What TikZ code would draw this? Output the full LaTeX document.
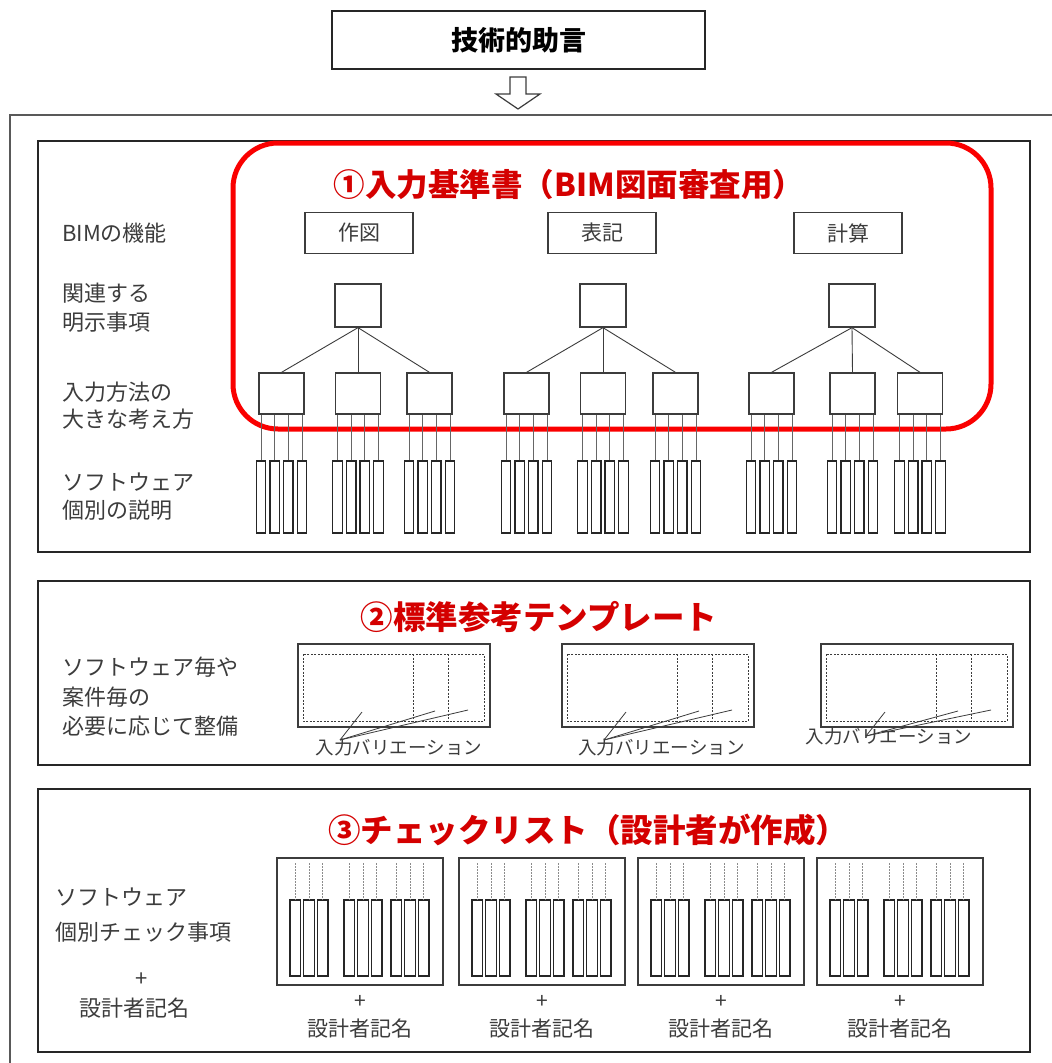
\documentclass[tikz,border=0pt]{standalone}
\usepackage{fontspec}
\setmainfont{Noto Sans CJK JP}
\definecolor{ttlred}{RGB}{212,0,0}
\definecolor{frred}{RGB}{250,0,0}
\definecolor{ink}{RGB}{60,60,60}
\begin{document}
\begin{tikzpicture}[x=1pt,y=-1pt,
  lab/.style={anchor=west,inner sep=0pt,text=ink,font=\fontsize{22}{26}\selectfont},
  ctr/.style={inner sep=0pt,text=ink,font=\fontsize{21}{25}\selectfont},
  ttl/.style={inner sep=0pt,text=ttlred,font=\bfseries\fontsize{32.5}{38}\selectfont},
  panel/.style={draw=black!85,line width=1.5},
  fnbox/.style={draw=ink,line width=1.3,minimum width=108,minimum height=41,inner sep=0pt,text=ink,font=\fontsize{21}{25}\selectfont},
  sqbox/.style={draw=ink,line width=1.3,minimum width=46,minimum height=43,inner sep=0pt},
  midbox/.style={draw=ink,line width=1.3,minimum width=45,minimum height=41,inner sep=0pt},
  swbox/.style={draw=black!85,line width=1.2,minimum width=9.5,minimum height=72,inner sep=0pt},
  tline/.style={draw=ink,line width=0.9},
  vline/.style={draw=black!60,line width=0.9},
  tplout/.style={draw=ink,line width=1.4,minimum width=192,minimum height=83,inner sep=0pt},
  dsh/.style={draw=ink,line width=1,dash pattern=on 2pt off 1.5pt},
  ckbox/.style={draw=ink,line width=1.3,minimum width=166,minimum height=127,inner sep=0pt},
  ckrect/.style={draw=black!85,line width=1.2,minimum width=10.5,minimum height=76,inner sep=0pt},
  dotl/.style={draw=black!45,line width=0.8,dash pattern=on 2pt off 1pt}]
\useasboundingbox (0,0) rectangle (1052,1063);
\fill[white] (0,0) rectangle (1052,1063);

% top box and hollow arrow
\node[draw=black!85,line width=1.5,minimum width=373,minimum height=58,inner sep=0pt,
      font=\bfseries\fontsize{27}{32}\selectfont] (top) at (518.5,40) {技術的助言};
\draw[draw=ink,line width=1.2,fill=white] (510,77) -- (526,77) -- (526,94) -- (540,94) -- (518,109)
  -- (496,94) -- (510,94) -- cycle;

% outer frame
\draw[draw=black!65,line width=2] (10,1063) -- (10,115) -- (1052,115);

% panels
\draw[panel] (38,141) rectangle (1030,552);
\draw[panel] (38,581) rectangle (1030,765);
\draw[panel] (38,789) rectangle (1030,1052);

% ---------- panel 1 ----------
\node[draw=frred,line width=5,rounded corners=45,minimum width=758,minimum height=286,inner sep=0pt] (redframe) at (612,286) {};
\node[ttl,font=\bfseries\fontsize{31.5}{37}\selectfont] (t1) at (569,185) {①入力基準書（BIM図面審査用）};

\node[lab] (l1) at (62,233) {BIMの機能};
\node[lab] (l2a) at (62,293) {関連する};
\node[lab] (l2b) at (62,322) {明示事項};
\node[lab] (l3a) at (62,392) {入力方法の};
\node[lab] (l3b) at (62,419) {大きな考え方};
\node[lab] (l4a) at (62,482) {ソフトウェア};
\node[lab] (l4b) at (62,510) {個別の説明};

\node[fnbox] (f1) at (359,233) {作図};
\node[fnbox] (f2) at (602,233) {表記};
\node[fnbox] (f3) at (848,233) {計算};

\node[sqbox] (s1) at (358,305.5) {};
\node[sqbox] (s2) at (603,305.5) {};
\node[sqbox] (s3) at (852,305.5) {};

\foreach \p/\xs in {1/{281.5,358,429.5},2/{526.5,603,675.5},3/{771.5,852.5,920}}{
  \foreach \x [count=\k] in \xs {
    \node[midbox] (m\p\k) at (\x,393.5) {};
    \draw[tline] (s\p.south) -- (m\p\k.north);
    \foreach \d [count=\j] in {-20.5,-6.8,6.8,20.5}{
      \node[swbox] (w\p\k\j) at (\x+\d,497) {};
      \draw[vline] (m\p\k.south -| w\p\k\j) -- (w\p\k\j.north);
    }
  }
}

% ---------- panel 2 ----------
\node[ttl] (t2) at (539,617) {②標準参考テンプレート};
\node[lab] (p2a) at (62,667) {ソフトウェア毎や};
\node[lab] (p2b) at (62,697) {案件毎の};
\node[lab] (p2c) at (62,726) {必要に応じて整備};

\foreach \L/\n/\lx/\ly/\sx/\sy in {298/A/399/748/340/740,562/B/661.5/748/604/740,821/C/889/737/866/736}{
  \node[tplout] (tp\n) at (\L+96,685.5) {};
  \draw[dsh] (\L+5,654) rectangle (\L+186,721);
  \draw[dsh] (\L+115,654) -- (\L+115,721);
  \draw[dsh] (\L+150,654) -- (\L+150,721);
  \node[ctr,font=\fontsize{18.5}{22}\selectfont] (vl\n) at (\lx,\ly) {入力バリエーション};
  \coordinate (ls\n) at (\sx,\sy);
  \coordinate (la\n) at (\L+64,712);
  \coordinate (lb\n) at (\L+137,711);
  \coordinate (lc\n) at (\L+170,710);
  \draw[tline,line width=0.8] (ls\n) -- (la\n);
  \draw[tline,line width=0.8] (ls\n) -- (lb\n);
  \draw[tline,line width=0.8] (ls\n) -- (lc\n);
}

% ---------- panel 3 ----------
\node[ttl] (t3) at (588,830) {③チェックリスト（設計者が作成）};
\node[lab] (p3a) at (55,897) {ソフトウェア};
\node[lab] (p3b) at (55,932) {個別チェック事項};
\node[ctr,font=\fontsize{22}{26}\selectfont] (p3c) at (142,980) {+};
\node[ctr,font=\fontsize{22}{26}\selectfont] (p3d) at (134.5,1008) {設計者記名};

\foreach \L [count=\b] in {277,459,638,817}{
  \node[ckbox] (ck\b) at (\L+83,921.5) {};
  \foreach \g [count=\gi] in {12,66,113}{
    \foreach \r in {0,1,2}{
      \node[ckrect] (cr\b\gi\r) at ({\L+\g+6.25+\r*13.7},938) {};
      \coordinate (ct\b\gi\r) at ({\L+\g+6.25+\r*13.7},863);
      \draw[dotl] (ct\b\gi\r) -- (cr\b\gi\r.north);
    }
  }
  \node[ctr] (pl\b) at (\L+83,1002) {+};
  \node[ctr] (sn\b) at (\L+83,1028) {設計者記名};
}
\end{tikzpicture}
\end{document}
